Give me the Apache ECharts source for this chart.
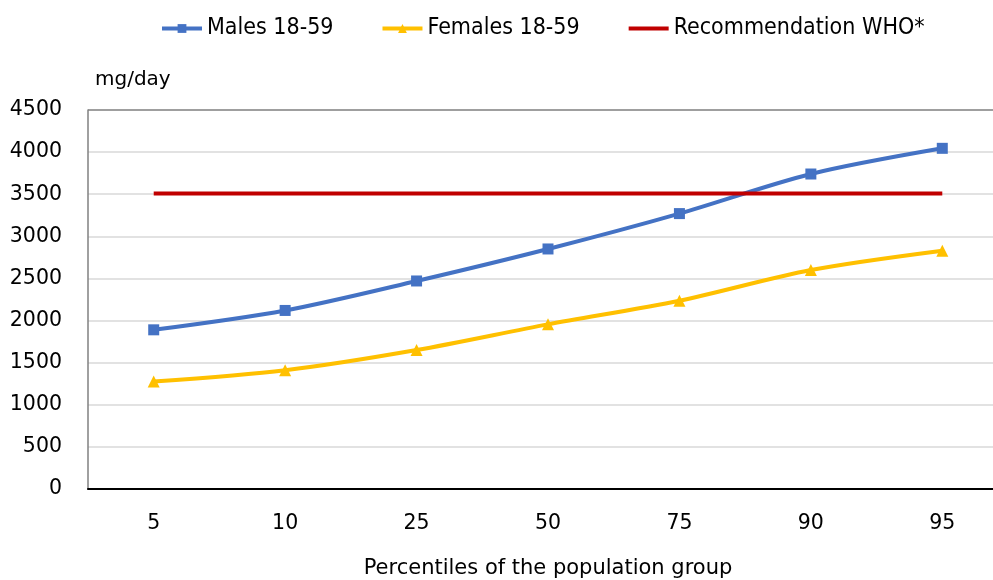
<!DOCTYPE html>
<html>
<head>
<meta charset="utf-8">
<script src="https://cdn.jsdelivr.net/npm/echarts@6/dist/echarts.min.js"></script>
<style>
    html, body { margin: 0; padding: 0; background: #fff; overflow: hidden; }
    /* plot runs past the right edge of the window, like the reference */
    #chart { width: 1008px; height: 580px; }
</style>
</head>
<body>
<div id="chart"></div>
<script>
const percentiles = ['5', '10', '25', '50', '75', '90', '95'];
const males = [1890, 2120, 2470, 2850, 3270, 3740, 4045];
const females = [1275, 1410, 1650, 1955, 2235, 2600, 2830];
const who = [3510, 3510, 3510, 3510, 3510, 3510, 3510];

const font = 'DejaVu Sans';
const legend_font = 'DejaVu Sans Condensed';

// top gridline is drawn darker, like a plot border
const grid_colors = ['#d9d9d9', '#d9d9d9', '#d9d9d9', '#d9d9d9', '#d9d9d9',
    '#d9d9d9', '#d9d9d9', '#d9d9d9', '#d9d9d9', '#7f7f7f'];

let chart = echarts.init(document.getElementById('chart'));
chart.setOption({
    animation: false,
    textStyle: { fontFamily: font },
    legend: {
        top: 12,
        left: 155,
        itemGap: 47,
        itemWidth: 40,
        itemHeight: 11,
        lineStyle: { width: 4 },
        textStyle: { fontSize: 23, color: '#000', fontFamily: legend_font },
        data: [
            'Males 18-59',
            'Females 18-59',
            { name: 'Recommendation WHO*', itemStyle: { opacity: 0 } },
        ],
    },
    grid: { left: 88, right: 0, top: 110, bottom: 91, outerBoundsMode: 'none' },
    xAxis: {
        type: 'category',
        data: percentiles,
        boundaryGap: true,
        name: 'Percentiles of the population group',
        nameLocation: 'middle',
        nameGap: 69,
        nameTextStyle: { fontSize: 21, color: '#000', fontFamily: font },
        axisLine: { lineStyle: { color: '#000', width: 2 } },
        axisTick: { show: false },
        axisLabel: { fontSize: 20.5, color: '#000', margin: 24, fontFamily: font },
    },
    yAxis: {
        type: 'value',
        min: 0,
        max: 4500,
        interval: 500,
        name: 'mg/day',
        nameLocation: 'end',
        nameGap: 20,
        nameTextStyle: { fontSize: 20, color: '#000', align: 'left', padding: [0, 0, 0, 7], fontFamily: font },
        axisLine: { show: true, lineStyle: { color: '#808080', width: 1.5 } },
        axisTick: { show: false },
        axisLabel: { fontSize: 20.5, color: '#000', margin: 26, fontFamily: font, formatter: (v) => String(v) },
        splitLine: { lineStyle: { color: grid_colors, width: 1.5 } },
    },
    series: [
        {
            name: 'Males 18-59',
            type: 'line',
            smooth: 0.3,
            data: males,
            symbol: 'rect',
            symbolSize: 11,
            color: '#4472C4',
            lineStyle: { width: 4 },
        },
        {
            name: 'Females 18-59',
            type: 'line',
            smooth: 0.3,
            data: females,
            symbol: 'triangle',
            symbolSize: 12,
            color: '#FFC000',
            lineStyle: { width: 4 },
        },
        {
            name: 'Recommendation WHO*',
            type: 'line',
            data: who,
            symbol: 'none',
            color: '#C00000',
            lineStyle: { width: 4 },
        },
    ],
});
</script>
</body>
</html>
